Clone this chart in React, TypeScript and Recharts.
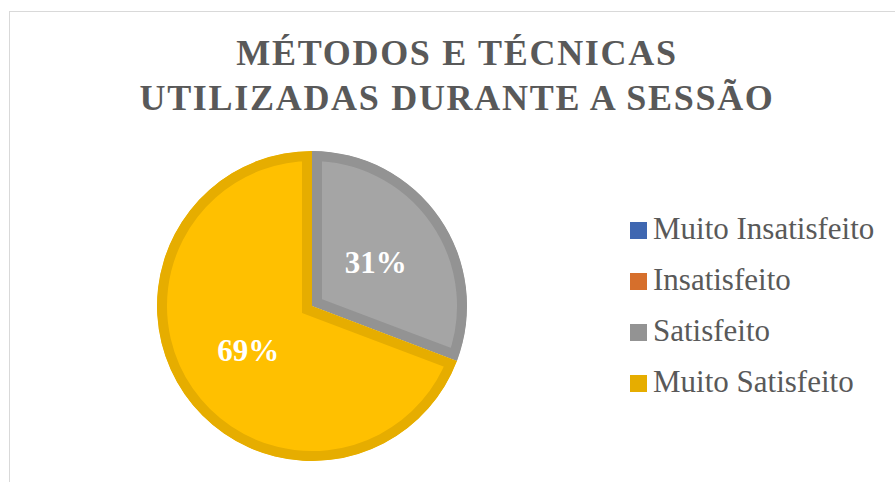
import { PieChart, Pie, Cell, Legend, Sector } from "recharts";

const categories = ["Muito Insatisfeito", "Insatisfeito", "Satisfeito", "Muito Satisfeito"];
const responses = [0, 0, 4, 9];
const fillColors = ["#4472C4", "#ED7D31", "#A5A5A5", "#FFC000"];
const edgeColors = ["#3F67B1", "#D66F2C", "#939393", "#E6AD00"];
const titleLines = ["MÉTODOS E TÉCNICAS", "UTILIZADAS DURANTE A SESSÃO"];

const data = categories.map((name, i) => ({ name, value: responses[i] }));

const serif = "'Liberation Serif', 'Times New Roman', serif";
const textGrey = "#595959";

// sector with its edge drawn only on the inside (stroke clipped to the slice)
function InsetSector(props: any) {
  const { cx, cy, outerRadius, startAngle, endAngle, fill, stroke } = props;
  if (startAngle === endAngle) return null;
  const id = `slice-clip-${Math.round(startAngle * 100)}-${Math.round(endAngle * 100)}`;
  return (
    <g>
      <defs>
        <clipPath id={id}>
          <Sector cx={cx} cy={cy} innerRadius={0} outerRadius={outerRadius} startAngle={startAngle} endAngle={endAngle} />
        </clipPath>
      </defs>
      <g clipPath={`url(#${id})`}>
        <Sector
          cx={cx}
          cy={cy}
          innerRadius={0}
          outerRadius={outerRadius}
          startAngle={startAngle}
          endAngle={endAngle}
          fill={fill}
          stroke={stroke}
          strokeWidth={20}
        />
      </g>
    </g>
  );
}

function renderLabel(props: any) {
  const { cx, cy, midAngle, outerRadius, percent, value } = props;
  if (!value) return null;
  const RAD = Math.PI / 180;
  const r = outerRadius * 0.5;
  const x = cx + r * Math.cos(-midAngle * RAD);
  const y = cy + r * Math.sin(-midAngle * RAD);
  return (
    <text
      x={x}
      y={y + 11}
      textAnchor="middle"
      fill="#FFFFFF"
      fontFamily={serif}
      fontWeight="bold"
      fontSize={31}
    >
      {`${Math.round(percent * 100)}%`}
    </text>
  );
}

function LegendList() {
  return (
    <div>
      {categories.map((name, i) => (
        <div key={name} style={{ display: "flex", alignItems: "center", height: 51 }}>
          <span
            style={{
              display: "inline-block",
              width: 17,
              height: 17,
              marginTop: 3,
              marginRight: 6,
              background: edgeColors[i],
            }}
          />
          <span style={{ fontFamily: serif, fontSize: 31, lineHeight: "51px", color: textGrey, whiteSpace: "nowrap" }}>
            {name}
          </span>
        </div>
      ))}
    </div>
  );
}

export default function App() {
  return (
    <div style={{ position: "absolute", left: 0, top: 0, width: 895, height: 482, background: "#fff", overflow: "hidden" }}>
      {/* chart frame, only left and top edges are in view */}
      <div
        style={{
          position: "absolute",
          left: 9,
          top: 11,
          width: 886,
          height: 471,
          borderLeft: "1px solid #D9D9D9",
          borderTop: "1px solid #D9D9D9",
          boxSizing: "border-box",
        }}
      />
      <svg width={895} height={130} style={{ position: "absolute", left: 0, top: 0 }}>
        {titleLines.map((line, i) => (
          <text
            key={line}
            x={457}
            y={65 + i * 45}
            textAnchor="middle"
            fill={textGrey}
            fontFamily={serif}
            fontWeight="bold"
            fontSize={36}
            letterSpacing={1.7}
          >
            {line}
          </text>
        ))}
      </svg>
      <div style={{ position: "absolute", left: 0, top: 0 }}>
        <PieChart width={895} height={482} margin={{ top: 0, right: 0, bottom: 0, left: 0 }}>
          <Pie
            data={data}
            dataKey="value"
            nameKey="name"
            cx={312}
            cy={306}
            outerRadius={155}
            startAngle={90}
            endAngle={-270}
            labelLine={false}
            label={renderLabel}
            shape={InsetSector}
            isAnimationActive={false}
          >
            {data.map((d, i) => (
              <Cell key={d.name} fill={fillColors[i]} stroke={edgeColors[i]} />
            ))}
          </Pie>
          <Legend
            layout="vertical"
            verticalAlign="middle"
            align="right"
            content={() => <LegendList />}
            wrapperStyle={{ left: 630, top: 203, right: "auto", width: 265 }}
          />
        </PieChart>
      </div>
    </div>
  );
}
